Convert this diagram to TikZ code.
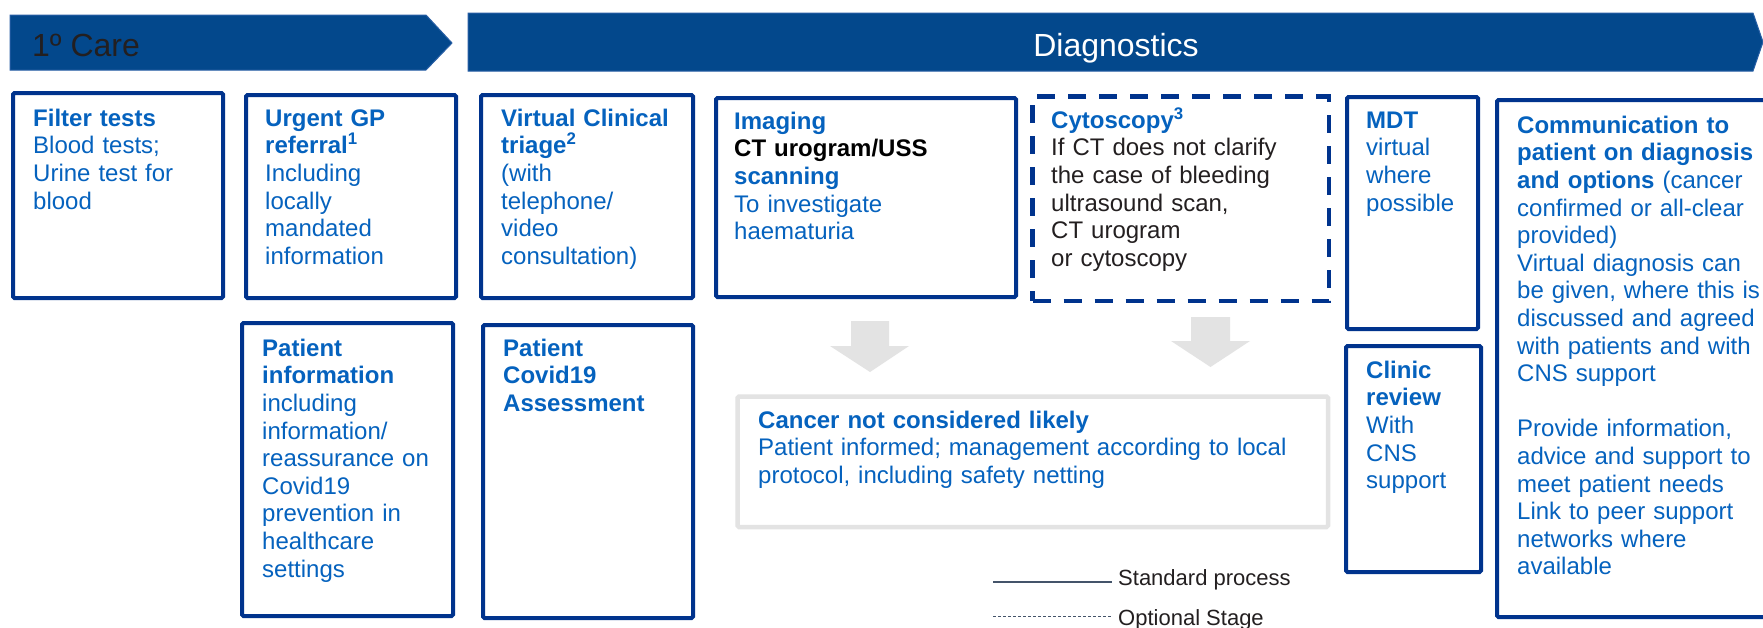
\documentclass[tikz,border=0pt]{standalone}
\usepackage{fontspec}
\setmainfont{Liberation Sans}
\definecolor{navy}{RGB}{0,51,141}
\definecolor{bannerblue}{RGB}{3,72,140}
\definecolor{banneredge}{RGB}{40,95,165}
\definecolor{txtblue}{RGB}{5,98,190}
\definecolor{darktxt}{RGB}{35,31,32}
\definecolor{arrowgray}{RGB}{227,227,227}
\definecolor{legendgray}{RGB}{68,84,106}
\newcommand{\boxtextfont}{\fontsize{24}{27.6}\selectfont}
\newcommand{\firstlinestrut}{\lineskiplimit=-50pt\relax\rule{0pt}{24pt}}
\tikzset{
  box/.style={draw=navy, line width=4pt, rounded corners=1.5pt, anchor=north west, inner sep=0pt, fill=white},
  dbox/.style={box, line width=4.5pt, rounded corners=0pt, dash pattern=on 18pt off 13pt},
  gbox/.style={draw=arrowgray, line width=4.5pt, rounded corners=1.5pt, anchor=north west, inner sep=0pt},
  txt/.style={anchor=north west, inner sep=0pt, text width=600pt, align=left, text=txtblue,
    font=\boxtextfont, execute at begin node={\firstlinestrut}},
  banner/.style={fill=bannerblue, draw=banneredge, line width=1pt},
  legtxt/.style={anchor=base west, inner sep=0pt, text=darktxt, font=\fontsize{22}{26}\selectfont},
  grayarrow/.style={fill=arrowgray},
}
\begin{document}
\begin{tikzpicture}[x=1pt, y=-1pt]
\useasboundingbox (0,0) rectangle (1763,627);
\fill[white] (0,0) rectangle (1763,627);

% banners
\path[banner] (10,15) -- (426,15) -- (452,43) -- (426,70) -- (10,70) -- cycle;
\path[banner] (468,13) -- (1753,13) -- (1763,42) -- (1753,71) -- (468,71) -- cycle;
\node[anchor=base west, inner sep=0pt, text=darktxt, font=\fontsize{32}{38}\selectfont] (care) at (32,56) {1º Care};
\node[anchor=base, inner sep=0pt, text=white, font=\fontsize{32}{38}\selectfont] (diag) at (1116,56) {Diagnostics};

% row 1 boxes
\node[box, minimum width=210pt, minimum height=205pt] (filt) at (11,91) {};
\node[box, minimum width=210pt, minimum height=203pt] (urg) at (244,93) {};
\node[box, minimum width=212pt, minimum height=203pt] (vir) at (479,93) {};
\node[box, minimum width=300pt, minimum height=199pt] (img) at (714,96) {};
\node[dbox, minimum width=296.5pt, minimum height=204.5pt] (cyt) at (1030.25,94.25) {};
\node[box, minimum width=131pt, minimum height=232pt] (mdt) at (1345,95) {};
\node[box, minimum width=300pt, minimum height=517pt] (comm) at (1495,98) {};

% row 2 boxes
\node[box, minimum width=211pt, minimum height=293pt] (pinfo) at (240,321) {};
\node[box, minimum width=210pt, minimum height=293pt] (pcov) at (481,323) {};
\node[box, minimum width=135pt, minimum height=226pt] (clin) at (1344,344) {};
\node[gbox, minimum width=590.5pt, minimum height=130.5pt] (notlikely) at (735.25,394.25) {};

% texts
\node[txt] (tfilt) at (33,102) {\textbf{Filter tests}\\Blood tests;\\Urine test for\\blood};
\node[txt] (turg) at (265,102) {\textbf{Urgent GP}\\\textbf{referral\textsuperscript{1}}\\Including\\locally\\mandated\\information};
\node[txt] (tvir) at (501,102) {\textbf{Virtual Clinical}\\\textbf{triage\textsuperscript{2}}\\(with\\telephone/\\video\\consultation)};
\node[txt] (timg) at (734,105) {\textbf{Imaging}\\{\color{black}\textbf{CT urogram/USS}}\\\textbf{scanning}\\To investigate\\haematuria};
\node[txt] (tcyt) at (1051,104) {\textbf{Cytoscopy\textsuperscript{3}}\\{\color{darktxt}If CT does not clarify}\\{\color{darktxt}the case of bleeding}\\{\color{darktxt}ultrasound scan,}\\{\color{darktxt}CT urogram}\\{\color{darktxt}or cytoscopy}};
\node[txt] (tmdt) at (1366,104) {\textbf{MDT}\\virtual\\where\\possible};
\node[txt] (tcomm) at (1517,109) {\textbf{Communication to}\\\textbf{patient on diagnosis}\\\textbf{and options} (cancer\\confirmed or all-clear\\provided)\\Virtual diagnosis can\\be given, where this is\\discussed and agreed\\with patients and with\\CNS support\\[27.6pt]Provide information,\\advice and support to\\meet patient needs\\Link to peer support\\networks where\\available};
\node[txt] (tpinfo) at (262,332) {\textbf{Patient}\\\textbf{information}\\including\\information/\\reassurance on\\Covid19\\prevention in\\healthcare\\settings};
\node[txt] (tpcov) at (503,332) {\textbf{Patient}\\\textbf{Covid19}\\\textbf{Assessment}};
\node[txt] (tclin) at (1366,354) {\textbf{Clinic}\\\textbf{review}\\With\\CNS\\support};
\node[txt] (tnot) at (758,404) {\textbf{Cancer not considered likely}\\Patient informed; management according to local\\protocol, including safety netting};

% grey block arrows
\path[grayarrow] (851,321) -- (889,321) -- (889,346) -- (909,346) -- (870,372) -- (830,346) -- (851,346) -- cycle;
\path[grayarrow] (1191,317) -- (1230,317) -- (1230,341) -- (1250,341) -- (1210.5,367) -- (1171,341) -- (1191,341) -- cycle;

% legend
\coordinate (s1) at (993,582);
\coordinate (s2) at (1112,582);
\coordinate (o1) at (993,616);
\coordinate (o2) at (1112,616);
\draw[legendgray, line width=2.5pt] (s1) -- (s2);
\draw[legendgray, line width=1pt, dash pattern=on 3pt off 2pt] (o1) -- (o2);
\node[legtxt] (lstd) at (1118,585) {Standard process};
\node[legtxt] (lopt) at (1118,625) {Optional Stage};
\end{tikzpicture}
\end{document}
